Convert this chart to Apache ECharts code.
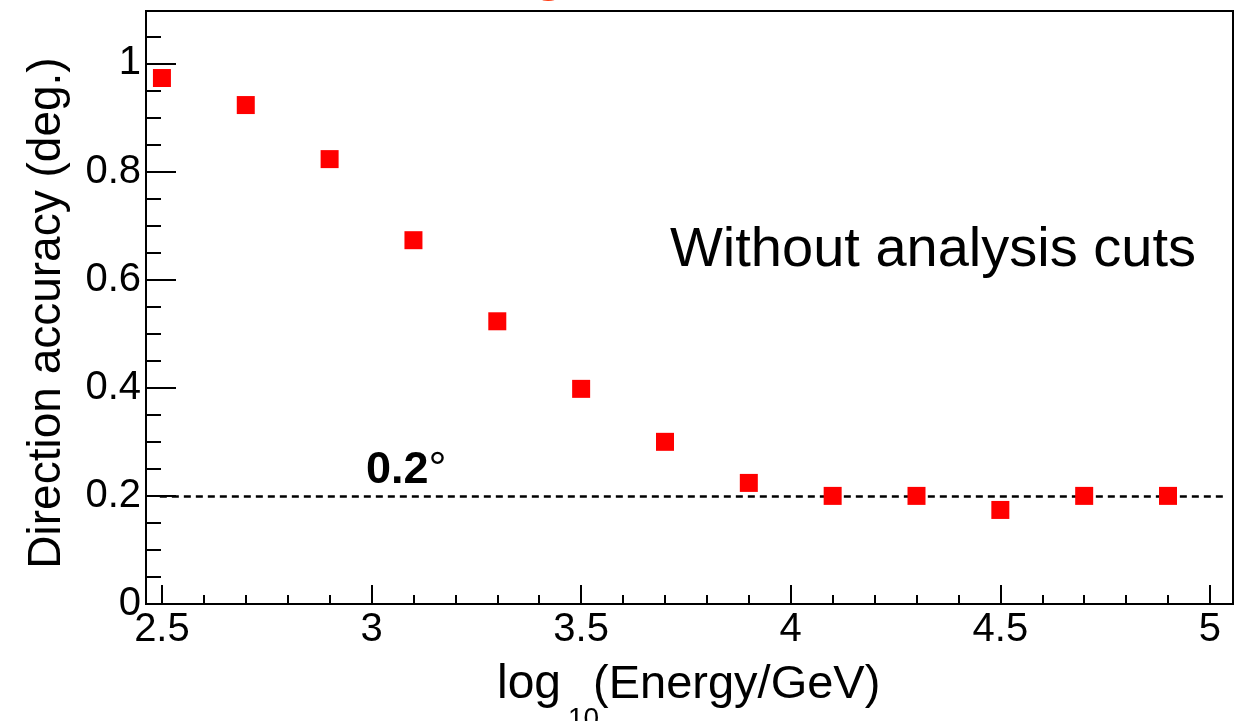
<!DOCTYPE html>
<html>
<head>
<meta charset="utf-8">
<script src="https://cdn.jsdelivr.net/npm/echarts@6/dist/echarts.min.js"></script>
<style>
html,body{margin:0;padding:0;background:#fff;}
#chart{width:1247px;height:721px;}
</style>
</head>
<body>
<div id="chart"></div>
<script>
// ---- data ----
var energy = [2.5, 2.7, 2.9, 3.1, 3.3, 3.5, 3.7, 3.9, 4.1, 4.3, 4.5, 4.7, 4.9];
var accuracy = [0.973, 0.923, 0.823, 0.673, 0.523, 0.398, 0.300, 0.224, 0.200, 0.200, 0.174, 0.200, 0.200];
var refLineY = [0.2];
var refLineX = [2.495, 5.04];
var xMajorTicks = [2.5, 3, 3.5, 4, 4.5, 5];
var xMinorTicks = [2.6, 2.7, 2.8, 2.9, 3.1, 3.2, 3.3, 3.4, 3.6, 3.7, 3.8, 3.9, 4.1, 4.2, 4.3, 4.4, 4.6, 4.7, 4.8, 4.9, 5.0];
var yMajorTicks = [0, 0.2, 0.4, 0.6, 0.8, 1];
var yMinorTicks = [0.05, 0.1, 0.15, 0.25, 0.3, 0.35, 0.45, 0.5, 0.55, 0.65, 0.7, 0.75, 0.85, 0.9, 0.95, 1.05];
var xRange = [2.462, 5.055];
var yRange = [0, 1.097];

var FONT = '"Liberation Sans", Arial, Helvetica, sans-serif';
var chart = echarts.init(document.getElementById('chart'), null, {renderer: 'canvas'});

var pts = energy.map(function (e, i) { return [e, accuracy[i]]; });

var option = {
  animation: false,
  backgroundColor: '#ffffff',
  grid: {left: 146, top: 11, right: 14, bottom: 117, show: true, borderColor: '#000', borderWidth: 2, backgroundColor: 'transparent'},
  xAxis: [{
    type: 'value', min: xRange[0], max: xRange[1],
    axisLine: {show: true, onZero: false, lineStyle: {color: '#000', width: 2}},
    axisTick: {show: true, inside: true, length: 19, customValues: xMajorTicks, lineStyle: {color: '#000', width: 2}},
    axisLabel: {show: true, customValues: xMajorTicks, margin: 6, color: '#000', fontSize: 40, fontFamily: FONT},
    splitLine: {show: false}
  }, {
    type: 'value', min: xRange[0], max: xRange[1], position: 'bottom',
    axisLine: {show: false, onZero: false},
    axisTick: {show: true, inside: true, length: 9, customValues: xMinorTicks, lineStyle: {color: '#000', width: 2}},
    axisLabel: {show: false},
    splitLine: {show: false}
  }],
  yAxis: [{
    type: 'value', min: yRange[0], max: yRange[1],
    axisLine: {show: true, onZero: false, lineStyle: {color: '#000', width: 2}},
    axisTick: {show: true, inside: true, length: 30, customValues: yMajorTicks, lineStyle: {color: '#000', width: 2}},
    axisLabel: {show: true, customValues: yMajorTicks, margin: 5, color: '#000', fontSize: 40, fontFamily: FONT},
    splitLine: {show: false}
  }, {
    type: 'value', min: yRange[0], max: yRange[1], position: 'left',
    axisLine: {show: false, onZero: false},
    axisTick: {show: true, inside: true, length: 15, customValues: yMinorTicks, lineStyle: {color: '#000', width: 2}},
    axisLabel: {show: false},
    splitLine: {show: false}
  }],
  series: [{
    type: 'scatter',
    xAxisIndex: 0, yAxisIndex: 0,
    data: pts,
    symbol: 'rect',
    symbolSize: 18,
    itemStyle: {color: '#ff0000', opacity: 1},
    z: 5,
    markLine: {
      silent: true,
      symbol: ['none', 'none'],
      label: {show: false},
      lineStyle: {color: '#000', width: 2.5, type: [7, 5]},
      data: [[{coord: [refLineX[0], refLineY[0]]}, {coord: [refLineX[1], refLineY[0]]}]]
    }
  }],
  graphic: [
    {type: 'text', x: 532, y: 2, style: {text: 'g', fill: '#ff3a10', font: '60px ' + FONT, textVerticalAlign: 'bottom'}, z: 0},
    {type: 'text', x: 47, y: 313, rotation: Math.PI / 2, style: {text: 'Direction accuracy (deg.)', fill: '#000', font: '46px ' + FONT, textAlign: 'center', textVerticalAlign: 'middle'}},
    {type: 'text', x: 497, y: 685, style: {text: 'log', fill: '#000', font: '48px ' + FONT, textAlign: 'left', textVerticalAlign: 'middle'}},
    {type: 'text', x: 568, y: 719, style: {text: '10', fill: '#000', font: '28px ' + FONT, textAlign: 'left', textVerticalAlign: 'middle'}},
    {type: 'text', x: 593, y: 685, style: {text: '(Energy/GeV)', fill: '#000', font: '47px ' + FONT, textAlign: 'left', textVerticalAlign: 'middle'}},
    {type: 'text', x: 670, y: 251, style: {text: 'Without analysis cuts', fill: '#000', font: '56px ' + FONT, textAlign: 'left', textVerticalAlign: 'middle'}},
    {type: 'text', x: 366, y: 471, style: {text: '{b|0.2}{d|°}', fill: '#000', textAlign: 'left', textVerticalAlign: 'middle',
      rich: {b: {fontSize: 45, fontWeight: 'bold', fontFamily: FONT, fill: '#000'}, d: {fontSize: 45, fontFamily: FONT, fill: '#000'}}}}
  ]
};
chart.setOption(option);
</script>
</body>
</html>
